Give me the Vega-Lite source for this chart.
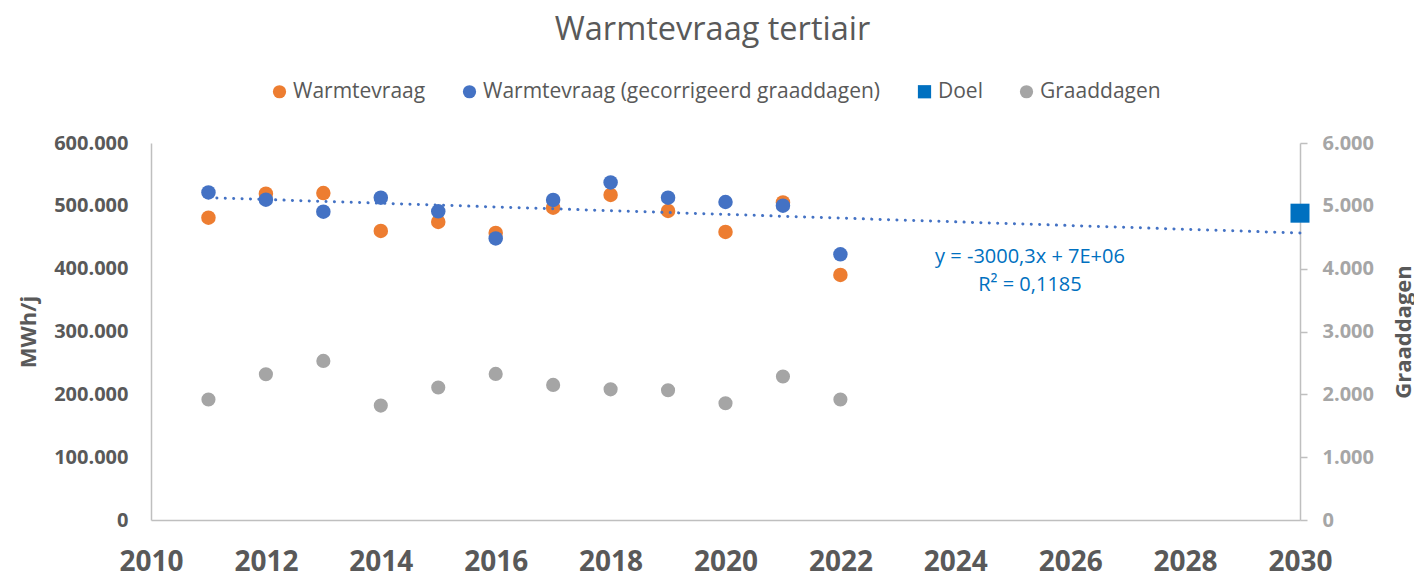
{
  "$schema": "https://vega.github.io/schema/vega-lite/v6.json",
  "width": 1149,
  "height": 377,
  "autosize": "none",
  "padding": {"left": 151, "top": 143, "right": 114, "bottom": 56},
  "config": {
    "view": {"stroke": null},
    "font": "Open Sans",
    "locale": {"number": {"decimal": ",", "thousands": ".", "grouping": [3], "currency": ["€", ""]}}
  },
  "title": {
    "text": "Warmtevraag tertiair",
    "font": "Open Sans",
    "fontSize": 32.5,
    "fontWeight": "normal",
    "color": "#595959",
    "anchor": "middle",
    "frame": "group",
    "dx": -13,
    "offset": 9,
    "baseline": "alphabetic"
  },
  "datasets": {
    "main": [
      {"year": 2011, "series": "Warmtevraag", "value": 481200},
      {"year": 2012, "series": "Warmtevraag", "value": 519300},
      {"year": 2013, "series": "Warmtevraag", "value": 520400},
      {"year": 2014, "series": "Warmtevraag", "value": 460000},
      {"year": 2015, "series": "Warmtevraag", "value": 474300},
      {"year": 2016, "series": "Warmtevraag", "value": 456800},
      {"year": 2017, "series": "Warmtevraag", "value": 497000},
      {"year": 2018, "series": "Warmtevraag", "value": 517300},
      {"year": 2019, "series": "Warmtevraag", "value": 491800},
      {"year": 2020, "series": "Warmtevraag", "value": 458400},
      {"year": 2021, "series": "Warmtevraag", "value": 505500},
      {"year": 2022, "series": "Warmtevraag", "value": 390000},
      {"year": 2011, "series": "Warmtevraag (gecorrigeerd graaddagen)", "value": 521400},
      {"year": 2012, "series": "Warmtevraag (gecorrigeerd graaddagen)", "value": 509800},
      {"year": 2013, "series": "Warmtevraag (gecorrigeerd graaddagen)", "value": 490700},
      {"year": 2014, "series": "Warmtevraag (gecorrigeerd graaddagen)", "value": 513000},
      {"year": 2015, "series": "Warmtevraag (gecorrigeerd graaddagen)", "value": 491200},
      {"year": 2016, "series": "Warmtevraag (gecorrigeerd graaddagen)", "value": 448200},
      {"year": 2017, "series": "Warmtevraag (gecorrigeerd graaddagen)", "value": 509300},
      {"year": 2018, "series": "Warmtevraag (gecorrigeerd graaddagen)", "value": 537300},
      {"year": 2019, "series": "Warmtevraag (gecorrigeerd graaddagen)", "value": 513000},
      {"year": 2020, "series": "Warmtevraag (gecorrigeerd graaddagen)", "value": 506100},
      {"year": 2021, "series": "Warmtevraag (gecorrigeerd graaddagen)", "value": 500200},
      {"year": 2022, "series": "Warmtevraag (gecorrigeerd graaddagen)", "value": 422800}
    ],
    "doel": [
      {"year": 2030, "series": "Doel", "value": 488300}
    ],
    "trend": [
      {"year": 2011, "value": 513000},
      {"year": 2030, "value": 456800}
    ],
    "notes": [
      {"year": 2025.3, "value": 409100, "label": "y = -3000,3x + 7E+06"},
      {"year": 2025.3, "value": 365100, "label": "R² = 0,1185"}
    ],
    "graad": [
      {"year": 2011, "series": "Graaddagen", "value": 1917},
      {"year": 2012, "series": "Graaddagen", "value": 2319},
      {"year": 2013, "series": "Graaddagen", "value": 2532},
      {"year": 2014, "series": "Graaddagen", "value": 1821},
      {"year": 2015, "series": "Graaddagen", "value": 2108},
      {"year": 2016, "series": "Graaddagen", "value": 2325},
      {"year": 2017, "series": "Graaddagen", "value": 2150},
      {"year": 2018, "series": "Graaddagen", "value": 2080},
      {"year": 2019, "series": "Graaddagen", "value": 2065},
      {"year": 2020, "series": "Graaddagen", "value": 1858},
      {"year": 2021, "series": "Graaddagen", "value": 2283},
      {"year": 2022, "series": "Graaddagen", "value": 1917}
    ]
  },
  "layer": [
    {
      "layer": [
        {
          "data": {"name": "main"},
          "mark": {"type": "point", "filled": true, "opacity": 1, "size": 210, "strokeWidth": 0},
          "encoding": {
            "x": {
              "field": "year", "type": "quantitative",
              "scale": {"domain": [2010, 2030], "nice": false, "zero": false},
              "axis": {
                "orient": "bottom", "title": null,
                "values": [2010, 2012, 2014, 2016, 2018, 2020, 2022, 2024, 2026, 2028, 2030],
                "format": "d", "grid": false, "ticks": false, "tickSize": 0,
                "domainColor": "#BFBFBF", "domainWidth": 1.5,
                "labelFont": "Open Sans", "labelFontSize": 28, "labelFontWeight": "bold",
                "labelColor": "#595959", "labelBaseline": "alphabetic", "labelPadding": 50,
                "labelFlush": false, "labelOverlap": false
              }
            },
            "y": {
              "field": "value", "type": "quantitative",
              "scale": {"domain": [0, 600000], "nice": false},
              "axis": {
                "orient": "left", "title": "MWh/j",
                "values": [0, 100000, 200000, 300000, 400000, 500000, 600000],
                "format": ",d", "grid": false, "ticks": false, "tickSize": 0,
                "domainColor": "#BFBFBF", "domainWidth": 1.5,
                "labelFont": "Open Sans", "labelFontSize": 20, "labelFontWeight": "bold",
                "labelColor": "#595959", "labelPadding": 23, "labelOverlap": false,
                "titleFont": "Open Sans", "titleFontSize": 22, "titleFontWeight": "bold",
                "titleColor": "#595959", "titleAngle": 270, "titleX": -123, "titleY": 188.5,
                "titleAlign": "center", "titleBaseline": "middle"
              }
            },
            "color": {
              "field": "series", "type": "nominal",
              "scale": {
                "domain": ["Warmtevraag", "Warmtevraag (gecorrigeerd graaddagen)", "Doel", "Graaddagen"],
                "range": ["#ED7D31", "#4472C4", "#0070C0", "#A5A5A5"]
              },
              "legend": {
                "title": null, "orient": "none", "legendX": 118, "legendY": -62,
                "direction": "horizontal", "columns": 4, "columnPadding": 33,
                "labelFont": "Open Sans", "labelFontSize": 21, "labelColor": "#595959",
                "labelLimit": 500,
                "labelOffset": 3, "symbolSize": 175, "symbolOpacity": 1, "symbolStrokeWidth": 0
              }
            },
            "shape": {
              "field": "series", "type": "nominal",
              "scale": {
                "domain": ["Warmtevraag", "Warmtevraag (gecorrigeerd graaddagen)", "Doel", "Graaddagen"],
                "range": ["circle", "circle", "square", "circle"]
              },
              "legend": {
                "title": null, "orient": "none", "legendX": 118, "legendY": -62,
                "direction": "horizontal", "columns": 4, "columnPadding": 33,
                "labelFont": "Open Sans", "labelFontSize": 21, "labelColor": "#595959",
                "labelLimit": 500,
                "labelOffset": 3, "symbolSize": 175, "symbolOpacity": 1, "symbolStrokeWidth": 0
              }
            }
          }
        },
        {
          "data": {"name": "doel"},
          "mark": {"type": "point", "filled": true, "opacity": 1, "size": 361, "strokeWidth": 0},
          "encoding": {
            "x": {"field": "year", "type": "quantitative"},
            "y": {"field": "value", "type": "quantitative"},
            "color": {"field": "series", "type": "nominal"},
            "shape": {"field": "series", "type": "nominal"}
          }
        },
        {
          "data": {"name": "trend"},
          "mark": {"type": "line", "color": "#4472C4", "strokeWidth": 3, "strokeDash": [0.1, 8.3], "strokeCap": "round"},
          "encoding": {
            "x": {"field": "year", "type": "quantitative"},
            "y": {"field": "value", "type": "quantitative"}
          }
        },
        {
          "data": {"name": "notes"},
          "mark": {"type": "text", "color": "#0070C0", "font": "Open Sans", "fontSize": 20, "align": "center", "baseline": "alphabetic"},
          "encoding": {
            "x": {"field": "year", "type": "quantitative"},
            "y": {"field": "value", "type": "quantitative"},
            "text": {"field": "label", "type": "nominal"}
          }
        }
      ]
    },
    {
      "data": {"name": "graad"},
      "mark": {"type": "point", "filled": true, "opacity": 1, "size": 200, "strokeWidth": 0},
      "encoding": {
        "x": {"field": "year", "type": "quantitative"},
        "y": {
          "field": "value", "type": "quantitative",
          "scale": {"domain": [0, 6000], "nice": false},
          "axis": {
            "orient": "right", "title": "Graaddagen",
            "values": [0, 1000, 2000, 3000, 4000, 5000, 6000],
            "format": ",d", "grid": false, "ticks": true, "tickSize": 7,
            "tickColor": "#BFBFBF", "tickWidth": 1.5,
            "domainColor": "#BFBFBF", "domainWidth": 1.5,
            "labelFont": "Open Sans", "labelFontSize": 20, "labelFontWeight": "bold",
            "labelColor": "#A6A6A6", "labelPadding": 15, "labelOverlap": false,
            "titleFont": "Open Sans", "titleFontSize": 22, "titleFontWeight": "bold",
            "titleColor": "#595959", "titleAngle": 270, "titleX": 103, "titleY": 188.5,
            "titleAlign": "center", "titleBaseline": "middle"
          }
        },
        "color": {"field": "series", "type": "nominal"},
        "shape": {"field": "series", "type": "nominal"}
      }
    }
  ],
  "resolve": {"scale": {"y": "independent"}}
}
